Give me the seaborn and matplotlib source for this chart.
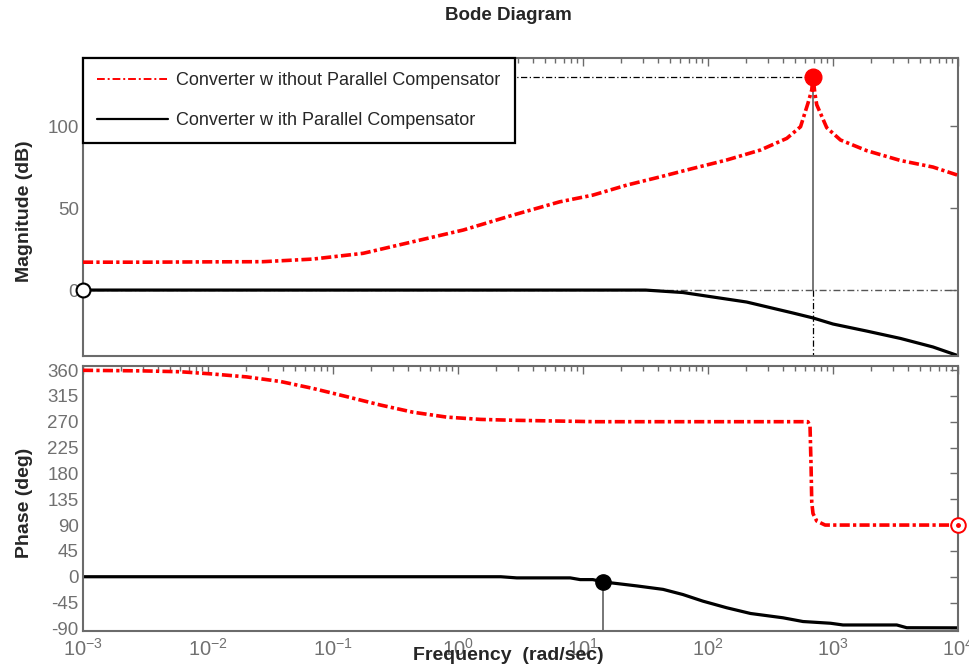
import numpy as np
import pandas as pd
import matplotlib
matplotlib.use("Agg")
import matplotlib.pyplot as plt
import matplotlib.ticker as mticker
from matplotlib.lines import Line2D
import seaborn as sns

# ---------------- data ----------------
freq_mag_red = [0.001, 0.00316, 0.01, 0.0275, 0.069, 0.174, 0.437, 1.1, 2.75, 6.5,
                12, 22.4, 41.3, 76, 141, 263, 427, 550, 631, 676, 692, 716, 741,
                891, 1148, 1862, 3467, 6310, 10000]
mag_red = [17, 17, 17.2, 17.3, 18.9, 22.4, 29.5, 36.6, 45.7, 53.8,
           57.9, 64, 69, 74.2, 79.3, 85.4, 92.5, 99.6, 114, 122, 130, 120, 113,
           99, 91.5, 85, 79, 75, 70]

freq_mag_black = [0.001, 1, 31.6, 63, 204, 479, 692, 1000, 1862, 3467, 6310, 10000]
mag_black = [0, 0, 0, -1.5, -7.3, -14, -17, -20.7, -25, -29.5, -34.7, -40]

freq_ph_red = [0.001, 0.003, 0.006, 0.011, 0.0204, 0.038, 0.069, 0.129, 0.24, 0.437,
               0.81, 1.51, 2.75, 12.6, 100, 630, 655, 668, 676, 692, 741, 865, 10000]
ph_red = [359.5, 358.5, 357, 353, 348, 340, 328, 313.6, 299, 286.5,
          278, 274, 272.5, 270, 270, 270, 262, 190, 130, 110, 97, 90, 90]

freq_ph_black = [0.001, 2.2, 2.95, 7.9, 9.5, 12, 14.5, 27, 43.7, 63, 91, 141, 219,
                 398, 575, 955, 1202, 3236, 3890, 10000]
ph_black = [0, 0, -2, -2, -5, -5, -9, -16, -22, -31, -42.5, -54, -64,
            -71.5, -78, -81, -84, -84, -88.8, -89]

# stability-margin markers
peak_freq, peak_mag = 692, 130           # resonant peak (red)
gm_freq, gm_mag = 0.001, 0               # open marker on magnitude plot
pm_freq, pm_phase = 14.5, -9             # filled marker on phase plot (black)
red_end_freq, red_end_phase = 10000, 90  # open marker on phase plot (red)

legend_labels = ["Converter w ithout Parallel Compensator",
                 "Converter w ith Parallel Compensator"]
mag_ticks = [0, 50, 100]
phase_ticks = [-90, -45, 0, 45, 90, 135, 180, 225, 270, 315, 360]

# ---------------- style ----------------
sns.set_style("white")
plt.rcParams["font.family"] = ["Liberation Sans", "DejaVu Sans"]
plt.rcParams["mathtext.fontset"] = "custom"
plt.rcParams["mathtext.rm"] = "Liberation Sans"
plt.rcParams["axes.unicode_minus"] = False

GRAY = "#6b6b6b"
TICKGRAY = "#707070"
RED_DASH = (0, (2.8, 0.9, 0.9, 0.9))
REF_DASH = (0, (5, 2, 1, 2))

W, H = 970, 666
fig = plt.figure(figsize=(W / 100, H / 100), dpi=100)
ax1 = fig.add_axes([83 / W, (H - 356) / H, 875 / W, 298 / H])
ax2 = fig.add_axes([83 / W, (H - 631) / H, 875 / W, 265 / H])

df_mr = pd.DataFrame({"f": freq_mag_red, "v": mag_red})
df_mb = pd.DataFrame({"f": freq_mag_black, "v": mag_black})
df_pr = pd.DataFrame({"f": freq_ph_red, "v": ph_red})
df_pb = pd.DataFrame({"f": freq_ph_black, "v": ph_black})

for ax in (ax1, ax2):
    ax.set_xscale("log")
    ax.set_xlim(1e-3, 1e4)

# ---------------- magnitude ----------------
ax1.axhline(0, color="#555555", lw=1.0, ls=REF_DASH, zorder=1)
ax1.plot([1e-3, peak_freq], [peak_mag, peak_mag], color="black", lw=0.9,
         ls=REF_DASH, zorder=1)
ax1.plot([peak_freq, peak_freq], [peak_mag, 0], color=GRAY, lw=1.3, zorder=1)
ax1.plot([peak_freq, peak_freq], [0, -45], color="black", lw=0.9,
         ls=REF_DASH, zorder=1)

sns.lineplot(data=df_mr, x="f", y="v", ax=ax1, color="red", lw=2.6,
             estimator=None, sort=False, zorder=3)
sns.lineplot(data=df_mb, x="f", y="v", ax=ax1, color="black", lw=2.3,
             estimator=None, sort=False, zorder=2)
ax1.lines[-2].set_linestyle(RED_DASH)

ax1.plot([peak_freq], [peak_mag], marker="o", ms=12, color="red", mec="red",
         ls="none", zorder=5, clip_on=False)
ax1.plot([gm_freq], [gm_mag], marker="o", ms=10, mfc="white", mec="black",
         mew=1.5, ls="none", zorder=5, clip_on=False)

ax1.set_ylim(-40.2, 141.5)
ax1.set_yticks(mag_ticks)
ax1.set_xlabel("")
ax1.set_ylabel("")

h_red = Line2D([], [], color="red", lw=1.4, ls=(0, (4, 1.5, 1, 1.5)))
h_black = Line2D([], [], color="black", lw=1.6)
leg = ax1.legend(handles=[h_red, h_black], labels=legend_labels,
                 loc="upper left", bbox_to_anchor=(0.0, 1.0), borderaxespad=0.0,
                 frameon=True, fancybox=False, framealpha=1, edgecolor="black",
                 fontsize=13, handlelength=3.9, handletextpad=0.45,
                 borderpad=0.8, labelspacing=1.25)
leg.get_frame().set_linewidth(1.6)
leg.set_zorder(10)

# ---------------- phase ----------------
ax2.plot([pm_freq, pm_freq], [pm_phase, -100], color=GRAY, lw=1.3, zorder=1)
sns.lineplot(data=df_pr, x="f", y="v", ax=ax2, color="red", lw=2.6,
             estimator=None, sort=False, zorder=3)
sns.lineplot(data=df_pb, x="f", y="v", ax=ax2, color="black", lw=2.3,
             estimator=None, sort=False, zorder=2)
ax2.lines[-2].set_linestyle(RED_DASH)

ax2.plot([pm_freq], [pm_phase], marker="o", ms=11, color="black", ls="none",
         zorder=5, clip_on=False)
ax2.plot([red_end_freq], [red_end_phase], marker="o", ms=10.5, mfc="white",
         mec="red", mew=1.4, ls="none", zorder=5, clip_on=False)
ax2.plot([red_end_freq], [red_end_phase], marker="o", ms=2.5, color="red",
         ls="none", zorder=6, clip_on=False)

ax2.set_ylim(-94.5, 367)
ax2.set_yticks(phase_ticks)
ax2.set_xlabel("")
ax2.set_ylabel("")

# ---------------- axes cosmetics ----------------
for ax in (ax1, ax2):
    ax.xaxis.set_major_locator(mticker.LogLocator(base=10, numticks=20))
    ax.xaxis.set_minor_locator(mticker.LogLocator(base=10, subs=np.arange(2, 10),
                                                  numticks=100))
    ax.xaxis.set_minor_formatter(mticker.NullFormatter())
    for s in ax.spines.values():
        s.set_color(GRAY)
        s.set_linewidth(1.5)
        s.set_visible(True)
    ax.tick_params(which="both", direction="in", top=True, right=True,
                   color=GRAY, labelcolor=TICKGRAY)
    ax.tick_params(which="major", length=6, width=1.0)
    ax.tick_params(which="minor", length=3.5, width=1.0)
    ax.tick_params(axis="y", labelsize=13.5, pad=3)
    ax.tick_params(axis="x", labelsize=14.5, pad=5)
    ax.set_facecolor("white")

ax1.tick_params(axis="x", which="both", labelbottom=False)

# ---------------- texts ----------------
fig.text(508 / W, 1 - 16 / H, "Bode Diagram", ha="center", va="center",
         fontsize=13.5, fontweight="bold")
fig.text(25 / W, 1 - 211 / H, "Magnitude (dB)", rotation=90, ha="center",
         va="center", fontsize=14, fontweight="bold")
fig.text(25 / W, 1 - 503 / H, "Phase (deg)", rotation=90, ha="center",
         va="center", fontsize=14, fontweight="bold")
fig.text(508 / W, 1 - 655 / H, "Frequency  (rad/sec)", ha="center",
         va="center", fontsize=14, fontweight="bold")

fig.savefig("out.png", dpi=100, facecolor="white")
